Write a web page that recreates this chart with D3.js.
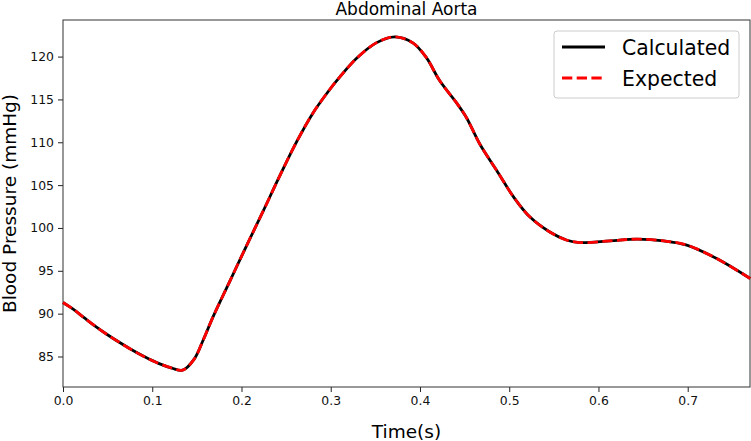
<!DOCTYPE html>
<html>
<head>
<meta charset="utf-8">
<script src="https://cdn.jsdelivr.net/npm/d3@7"></script>
<style>
  body { margin: 0; background: #fff; }
  #chart { width: 751px; height: 441px; }
  text { font-family: "DejaVu Sans", sans-serif; }
</style>
</head>
<body>
<div id="chart"></div>
<script>
// time in seconds, pressure in mmHg
const timeValues = [0, 0.011, 0.024, 0.036, 0.049, 0.064, 0.077, 0.092, 0.107, 0.122, 0.134,
  0.147, 0.157, 0.168, 0.187, 0.206, 0.224, 0.243, 0.262, 0.280, 0.297, 0.310, 0.329,
  0.351, 0.372, 0.392, 0.407, 0.422, 0.441, 0.452, 0.467, 0.486, 0.505, 0.523, 0.546,
  0.564, 0.579, 0.613, 0.643, 0.673, 0.699, 0.733, 0.770];
const calculated = [91.3, 90.55, 89.5, 88.55, 87.6, 86.6, 85.78, 84.93, 84.2, 83.65, 83.4,
  84.7, 86.9, 89.6, 93.8, 98.0, 101.9, 106.1, 110.1, 113.4, 115.9, 117.6, 119.8,
  121.6, 122.3, 121.6, 119.9, 117.2, 114.6, 112.9, 109.8, 106.7, 103.6, 101.3, 99.5,
  98.6, 98.3, 98.5, 98.7, 98.5, 98.0, 96.4, 94.1];
const expected = calculated.slice();
const xTicks = [0, 0.1, 0.2, 0.3, 0.4, 0.5, 0.6, 0.7];
const yTicks = [85, 90, 95, 100, 105, 110, 115, 120];
const legendLabels = ["Calculated", "Expected"];

let margin = { top: 20, right: 1, bottom: 54, left: 63 };
let width = 751 - margin.left - margin.right;
let height = 441 - margin.top - margin.bottom;

let svg = d3.select("#chart").append("svg")
    .attr("width", 751)
    .attr("height", 441)
  .append("g")
    .attr("transform", `translate(${margin.left},${margin.top})`);

let x = d3.scaleLinear().domain([0, 0.7698]).range([0, width]);
let y = d3.scaleLinear().domain([81.44, 124.27]).range([height, 0]);

// axes
let xAxis = d3.axisBottom(x).tickValues(xTicks).tickFormat(d3.format(".1f")).tickSize(5).tickPadding(4);
let yAxis = d3.axisLeft(y).tickValues(yTicks).tickSize(5).tickPadding(4);

let gx = svg.append("g").attr("transform", `translate(0,${height})`).call(xAxis);
let gy = svg.append("g").call(yAxis);
[gx, gy].forEach(g => {
  g.select(".domain").remove();
  g.selectAll("line").attr("stroke", "#222").attr("stroke-width", 1);
  g.selectAll("text").style("font-size", "12.4px").attr("fill", "#111");
});

// frame
svg.append("rect")
    .attr("x", 0).attr("y", 0)
    .attr("width", width).attr("height", height)
    .attr("fill", "none")
    .attr("stroke", "#333")
    .attr("stroke-width", 1);

let line = d3.line()
    .x((d, i) => x(timeValues[i]))
    .y(d => y(d))
    .curve(d3.curveCatmullRom.alpha(0.5));

svg.append("path")
    .datum(calculated)
    .attr("d", line)
    .attr("fill", "none")
    .attr("stroke", "#000")
    .attr("stroke-width", 2.8);

svg.append("path")
    .datum(expected)
    .attr("d", line)
    .attr("fill", "none")
    .attr("stroke", "#ff0000")
    .attr("stroke-width", 2.8)
    .attr("stroke-dasharray", "10.3,4.4");

// labels
svg.append("text")
    .attr("x", width / 2).attr("y", -5)
    .attr("text-anchor", "middle")
    .style("font-size", "17px")
    .text("Abdominal Aorta");

svg.append("text")
    .attr("x", width / 2).attr("y", height + 51)
    .attr("text-anchor", "middle")
    .style("font-size", "18.5px")
    .text("Time(s)");

svg.append("text")
    .attr("transform", "rotate(-90)")
    .attr("x", -height / 2).attr("y", -47)
    .attr("text-anchor", "middle")
    .style("font-size", "18.5px")
    .text("Blood Pressure (mmHg)");

// legend
let legend = svg.append("g").attr("transform", `translate(${554 - margin.left},${31 - margin.top})`);
legend.append("rect")
    .attr("width", 185).attr("height", 67)
    .attr("rx", 3)
    .attr("fill", "#fff").attr("fill-opacity", 0.8)
    .attr("stroke", "#ccc");

legendLabels.forEach((lab, i) => {
  let ly = 16 + i * 31;
  legend.append("line")
      .attr("x1", 8).attr("x2", 51)
      .attr("y1", ly).attr("y2", ly)
      .attr("stroke", i === 0 ? "#000" : "#ff0000")
      .attr("stroke-width", 2.8)
      .attr("stroke-dasharray", i === 0 ? null : "10.3,4.4");
  legend.append("text")
      .attr("x", 68).attr("y", ly + 7.5)
      .style("font-size", "20.4px")
      .text(lab);
});
</script>
</body>
</html>
